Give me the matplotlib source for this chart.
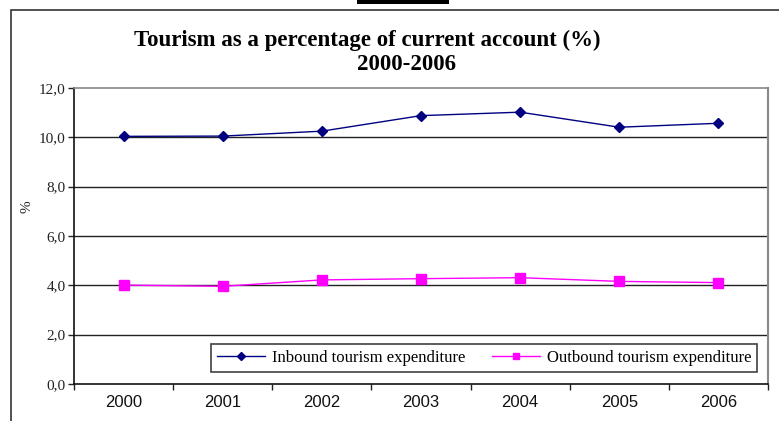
import matplotlib
matplotlib.use("Agg")
import matplotlib.pyplot as plt
from matplotlib.patches import Rectangle
from matplotlib.lines import Line2D

years = ["2000", "2001", "2002", "2003", "2004", "2005", "2006"]
inbound = [10.04, 10.05, 10.25, 10.88, 11.02, 10.41, 10.57]
outbound = [4.01, 3.96, 4.22, 4.27, 4.31, 4.16, 4.11]
yticks = [0, 2, 4, 6, 8, 10, 12]
ytick_labels = ["0,0", "2,0", "4,0", "6,0", "8,0", "10,0", "12,0"]

W, H = 779, 421
fig = plt.figure(figsize=(W / 100, H / 100), dpi=100)

def fx(px):
    return px / W

def fy(py):
    return 1 - py / H

# outer frame
fig.patches.append(Rectangle((fx(11), fy(430)), fx(790) - fx(11), fy(10) - fy(430),
                             transform=fig.transFigure, fill=False, edgecolor="#333333",
                             linewidth=1.2, zorder=0))
# black bar at top
fig.patches.append(Rectangle((fx(357), fy(4)), fx(449) - fx(357), fy(0) - fy(4),
                             transform=fig.transFigure, facecolor="black", edgecolor="none"))

left, right, top, bottom = 74, 768, 88, 384
ax = fig.add_axes([fx(left), fy(bottom), fx(right) - fx(left), fy(top) - fy(bottom)])

x = list(range(len(years)))
ax.plot(x, inbound, color="#000080", linewidth=1.0, marker="D", markersize=5,
        markerfacecolor="#000080", markeredgecolor="#000080", zorder=3)
ax.plot(x, outbound, color="#FF00FF", linewidth=1.0, marker="s", markersize=6.5,
        markerfacecolor="#FF00FF", markeredgecolor="#FF00FF", zorder=3)

ax.set_xlim(-0.5, len(years) - 0.5)
ax.set_ylim(0, 12)
ax.set_yticks(yticks)
ax.set_yticklabels(ytick_labels, fontfamily="Liberation Serif", fontsize=11, color="#222222")
for yv in yticks[1:-1]:
    ax.axhline(yv, color="#222222", linewidth=1.0, zorder=1)

ax.set_xticks([i + 0.5 for i in range(-1, len(years))])
ax.set_xticklabels([])
ax.set_xticks(x, minor=True)
ax.set_xticklabels(years, minor=True, fontfamily="Liberation Sans", fontsize=12, color="#111111")
ax.tick_params(axis="x", which="major", direction="out", length=4, width=1, color="#222222")
ax.tick_params(axis="x", which="minor", length=0, pad=8)
ax.tick_params(axis="y", direction="out", length=4, width=1, color="#222222", pad=2)

ax.spines["left"].set_color("#111111")
ax.spines["left"].set_linewidth(1.2)
ax.spines["bottom"].set_color("#111111")
ax.spines["bottom"].set_linewidth(1.2)
ax.spines["top"].set_color("#888888")
ax.spines["right"].set_color("#888888")
ax.spines["top"].set_linewidth(1.2)
ax.spines["right"].set_linewidth(1.5)

fig.text(fx(27), fy(207), "%", rotation=90, ha="center", va="center",
         fontfamily="Liberation Serif", fontsize=11, color="#222222")

fig.text(fx(367), fy(40), "Tourism as a percentage of current account (%)", ha="center", va="center",
         fontfamily="Liberation Serif", fontweight="bold", fontsize=16.5)
fig.text(fx(406), fy(64), "2000-2006", ha="center", va="center",
         fontfamily="Liberation Serif", fontweight="bold", fontsize=16.5)

handles = [
    Line2D([], [], color="#000080", linewidth=1.0, marker="D", markersize=4),
    Line2D([], [], color="#FF00FF", linewidth=1.0, marker="s", markersize=5),
]
leg = fig.legend(handles, ["Inbound tourism expenditure", "Outbound tourism expenditure"],
                 loc="upper left", bbox_to_anchor=(fx(211), fy(344)),
                 bbox_transform=fig.transFigure, ncol=2, frameon=True, fancybox=False,
                 borderaxespad=0, handlelength=2.9, handletextpad=0.4, columnspacing=1.6,
                 borderpad=0.35, prop={"family": "Liberation Serif", "size": 12})
leg.get_frame().set_edgecolor("#111111")
leg.get_frame().set_linewidth(1.2)

fig.savefig("out.png", dpi=100)
